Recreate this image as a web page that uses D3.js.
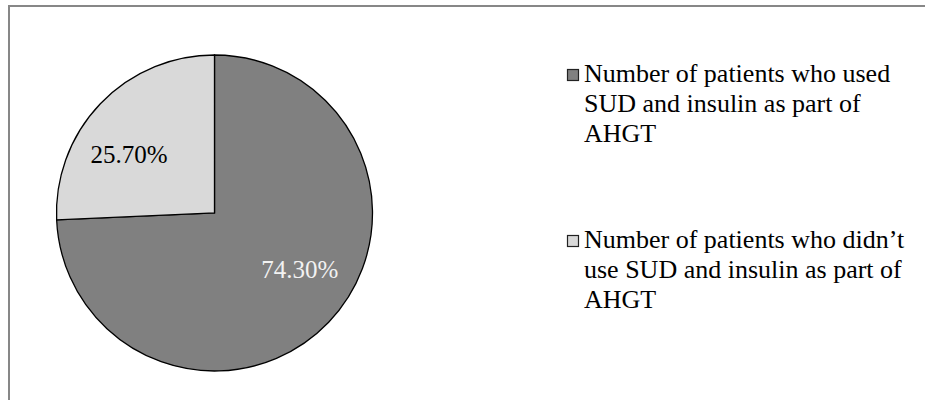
<!DOCTYPE html>
<html>
<head>
<meta charset="utf-8">
<script src="https://cdn.jsdelivr.net/npm/d3@7"></script>
<style>
  body { margin: 0; background: #fff; }
  svg { display: block; font-family: 'Liberation Serif'; }
</style>
</head>
<body>
<div id="container"></div>
<script>
// data
const categories = [
  ['Number of patients who used', 'SUD and insulin as part of', 'AHGT'],
  ['Number of patients who didn\u2019t', 'use SUD and insulin as part of', 'AHGT']
];
const values = [74.3, 25.7];
const colors = ['#808080', '#d9d9d9'];
const labelColors = ['#f2f2f2', '#000000'];

const serif = "'Liberation Serif'";
const width = 925, height = 400;
const cx = 214.5, cy = 213, radius = 158;

const svg = d3.select('#container')
  .append('svg')
  .attr('width', width)
  .attr('height', height);

svg.append('rect')
  .attr('width', width)
  .attr('height', height)
  .attr('fill', '#fff');

// chart frame (runs past the right and bottom edges)
svg.append('rect')
  .attr('x', 9)
  .attr('y', 6)
  .attr('width', 940)
  .attr('height', 420)
  .attr('fill', 'none')
  .attr('stroke', '#878787')
  .attr('stroke-width', 2);

const pie = d3.pie().sort(null).value(d => d);
const arcs = pie(values);
const arc = d3.arc().innerRadius(0).outerRadius(radius);

const g = svg.append('g').attr('transform', `translate(${cx},${cy})`);

g.selectAll('path')
  .data(arcs)
  .enter().append('path')
  .attr('d', arc)
  .attr('fill', (d, i) => colors[i])
  .attr('stroke', '#000')
  .attr('stroke-width', 1.3);

// labels sit a bit counter-clockwise of the slice middle
const labelR = 103;
g.selectAll('text')
  .data(arcs)
  .enter().append('text')
  .attr('x', d => labelR * Math.sin((d.startAngle + d.endAngle) / 2 - 0.17))
  .attr('y', d => -labelR * Math.cos((d.startAngle + d.endAngle) / 2 - 0.17))
  .attr('dy', '0.3em')
  .attr('text-anchor', 'middle')
  .style('font-family', serif)
  .style('font-size', '25px')
  .attr('fill', (d, i) => labelColors[i])
  .text(d => d3.format('.2f')(d.data) + '%');

// legend
const legend = svg.append('g');
const itemY = [82, 248];
categories.forEach((lines, i) => {
  legend.append('rect')
    .attr('x', 567.5)
    .attr('y', itemY[i] - 12.5)
    .attr('width', 11)
    .attr('height', 11)
    .attr('fill', colors[i])
    .attr('stroke', '#222')
    .attr('stroke-width', 1.2);
  const t = legend.append('text')
    .attr('x', 584)
    .attr('y', itemY[i])
    .style('font-family', serif)
    .style('font-size', '26px')
    .attr('fill', '#000');
  lines.forEach((line, j) => {
    t.append('tspan')
      .attr('x', 584)
      .attr('y', itemY[i] + j * 30)
      .text(line);
  });
});
</script>
</body>
</html>
